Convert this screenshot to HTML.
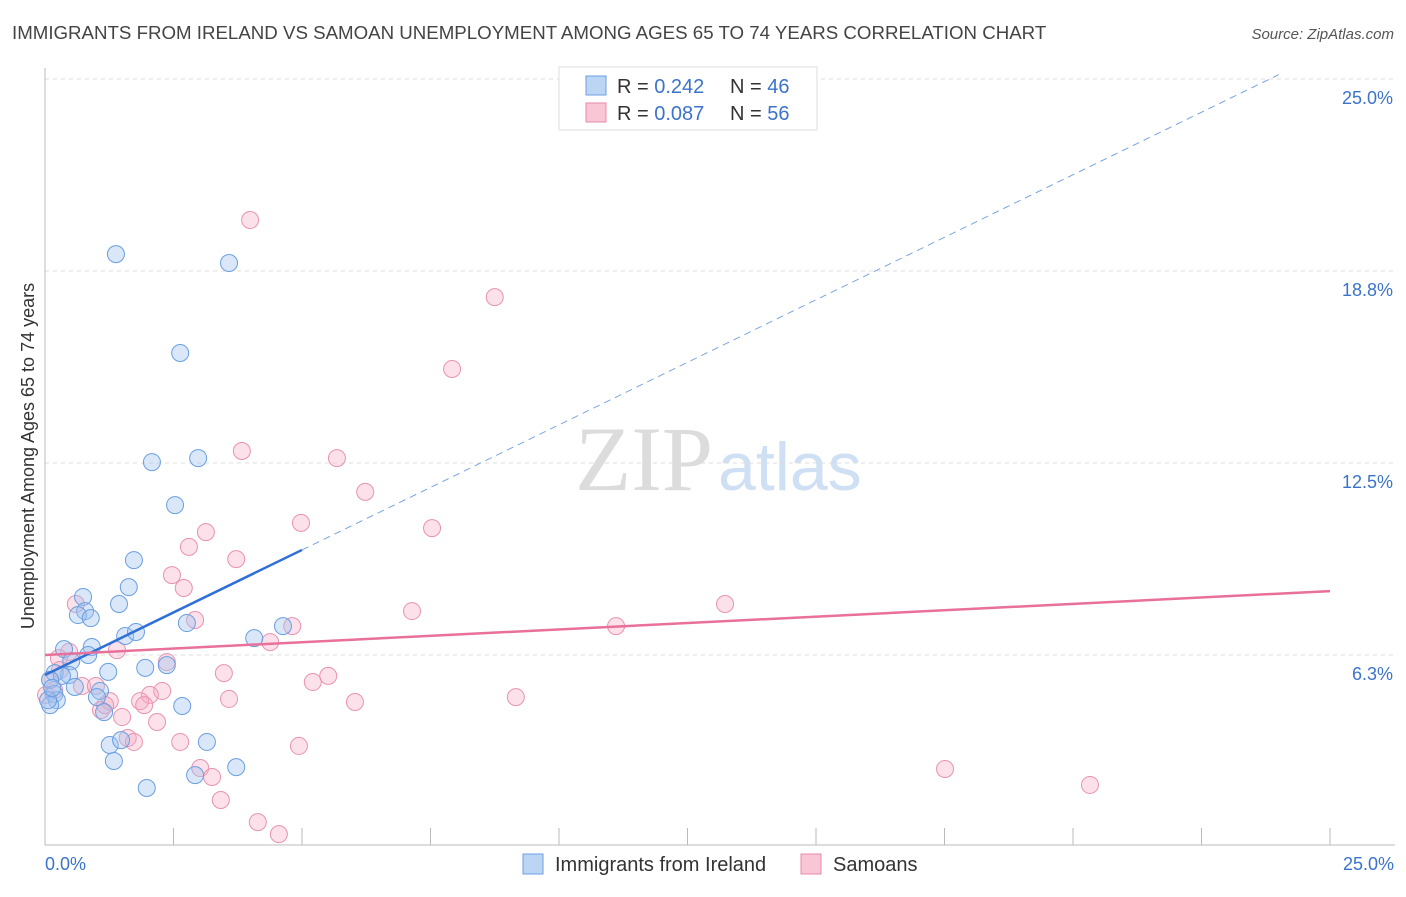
<!DOCTYPE html>
<html><head><meta charset="utf-8"><style>
body{margin:0;background:#fff;font-family:"Liberation Sans",sans-serif}
</style></head><body>
<svg id="c" width="1406" height="892" xmlns="http://www.w3.org/2000/svg">
<text x="12" y="39" font-size="18.7" fill="#444">IMMIGRANTS FROM IRELAND VS SAMOAN UNEMPLOYMENT AMONG AGES 65 TO 74 YEARS CORRELATION CHART</text>
<text x="1394" y="39" font-size="15" fill="#555" text-anchor="end" font-style="italic">Source: ZipAtlas.com</text>
<text x="713" y="490" font-size="92" fill="#dcdcdc" text-anchor="end" font-family="Liberation Serif,serif">ZIP</text>
<text x="718" y="490" font-size="68" fill="#cfe0f5">atlas</text>
<text transform="translate(34,456) rotate(-90)" font-size="18" fill="#333" text-anchor="middle">Unemployment Among Ages 65 to 74 years</text>
<g id="grid"></g><g id="pts"></g><g id="lines"></g>
<g>
<rect x="559" y="67" width="258" height="63" fill="#fff" stroke="#ddd"/>
<rect x="586" y="76" width="20" height="19" fill="#bcd5f5" stroke="#6a9fe0"/>
<text x="617" y="93" font-size="20" fill="#333">R = <tspan fill="#3b73cc">0.242</tspan></text>
<text x="730" y="93" font-size="20" fill="#333">N = <tspan fill="#3b73cc">46</tspan></text>
<rect x="586" y="103" width="20" height="19" fill="#f9c6d6" stroke="#e88aaa"/>
<text x="617" y="120" font-size="20" fill="#333">R = <tspan fill="#3b73cc">0.087</tspan></text>
<text x="730" y="120" font-size="20" fill="#333">N = <tspan fill="#3b73cc">56</tspan></text>
</g>
<g>
<rect x="523" y="854" width="20" height="20" fill="#bcd5f5" stroke="#6a9fe0"/>
<text x="555" y="871" font-size="20" fill="#333">Immigrants from Ireland</text>
<rect x="801" y="854" width="20" height="20" fill="#f9c6d6" stroke="#e88aaa"/>
<text x="833" y="871" font-size="20" fill="#333">Samoans</text>
</g>
</svg>
<script>
const yTicks=[25,18.75,12.5,6.25];
const yTickLabels=["25.0%","18.8%","12.5%","6.3%"];
const xTickLabels=["0.0%","25.0%"];
const blueX=[1.38,3.58,2.63,2.08,2.98,2.53,1.73,1.63,0.74,1.44,0.78,0.64,0.89,2.76,1.56,1.77,4.07,4.63,0.37,0.91,0.84,0.51,1.95,2.37,1.23,0.19,0.47,0.33,0.10,0.58,1.07,1.01,0.18,0.23,1.15,2.67,0.10,1.26,1.48,3.15,1.34,3.72,2.92,1.98,0.06,0.14];
const blueY=[19.30,19.01,16.08,12.53,12.66,11.13,9.34,8.46,8.14,7.91,7.68,7.55,7.45,7.29,6.87,7.00,6.80,7.19,6.44,6.51,6.25,6.05,5.83,5.92,5.70,5.66,5.60,5.57,5.44,5.21,5.08,4.88,4.98,4.78,4.39,4.59,4.62,3.32,3.48,3.42,2.80,2.60,2.34,1.92,4.78,5.18];
const pinkX=[3.99,8.75,7.92,3.83,5.68,6.23,4.98,7.53,3.13,2.80,3.72,2.47,2.70,0.60,7.14,13.23,2.92,11.11,4.81,4.38,1.40,0.47,0.27,2.37,3.48,5.51,5.21,0.72,0.99,2.28,2.04,1.85,1.26,3.58,6.03,9.16,1.09,1.93,0.18,1.50,2.18,1.61,1.73,2.63,4.94,3.02,3.25,17.51,20.33,3.42,4.14,4.55,0.10,0.29,1.17,0.02];
const pinkY=[20.41,17.90,15.56,12.89,12.66,11.56,10.55,10.38,10.25,9.77,9.37,8.85,8.43,7.91,7.68,7.91,7.39,7.19,7.19,6.67,6.41,6.35,6.15,6.02,5.66,5.57,5.37,5.24,5.24,5.08,4.95,4.75,4.75,4.82,4.72,4.88,4.46,4.62,5.11,4.23,4.07,3.55,3.42,3.42,3.29,2.57,2.28,2.54,2.02,1.53,0.81,0.42,5.44,5.76,4.62,4.95];
const blueTrend=[[0,5.60],[5.0,9.67],[24,25.14]];
const pinkTrend=[[0,6.25],[25,8.33]];
const NS="http://www.w3.org/2000/svg";
const X=v=>45+v/25*1285, Y=v=>847-v/25*768;
function mk(t,a,p){const e=document.createElementNS(NS,t);for(const k in a)e.setAttribute(k,a[k]);p.appendChild(e);return e;}
const g=document.getElementById('grid');
yTicks.forEach((t,i)=>{
 const l=mk('line',{x1:45,x2:1395,y1:Y(t),y2:Y(t),stroke:'#ddd','stroke-dasharray':'4,4'},g);
 
 
 const tx=mk('text',{x:1393,y:Y(t)+25,'font-size':18,fill:'#3b73cc','text-anchor':'end'},g);
 tx.textContent=yTickLabels[i];
 
 
});
mk('line',{x1:45,x2:45,y1:68,y2:845,stroke:'#bbb'},g);
mk('line',{x1:45,x2:1395,y1:845,y2:845,stroke:'#bbb'},g);
for(let i=0;i<=10;i++){const t=mk('line',{x1:X(i*2.5),x2:X(i*2.5),y1:828,y2:845,stroke:'#bbb'},g);
 
 }
const xl0=mk('text',{x:45,y:870,'font-size':18,fill:'#3b73cc'},g);xl0.textContent=xTickLabels[0];


const xl1=mk('text',{x:1394,y:870,'font-size':18,fill:'#3b73cc','text-anchor':'end'},g);xl1.textContent=xTickLabels[1];


const p=document.getElementById('pts');
pinkX.forEach((x,i)=>{const c=mk('circle',{cx:X(x),cy:Y(pinkY[i]),r:8.5,fill:'rgba(245,170,195,0.35)',stroke:'#e893b0','stroke-width':1},p);
 
 });
blueX.forEach((x,i)=>{const c=mk('circle',{cx:X(x),cy:Y(blueY[i]),r:8.5,fill:'rgba(160,195,240,0.4)',stroke:'#6a9fe0','stroke-width':1},p);
 
 });
const L=document.getElementById('lines');
const b1=mk('line',{x1:X(blueTrend[0][0]),y1:Y(blueTrend[0][1]),x2:X(blueTrend[1][0]),y2:Y(blueTrend[1][1]),stroke:'#2f6fd6','stroke-width':2.5},L);


const b2=mk('line',{x1:X(blueTrend[1][0]),y1:Y(blueTrend[1][1]),x2:X(blueTrend[2][0]),y2:Y(blueTrend[2][1]),stroke:'#7aa5e0','stroke-width':1,'stroke-dasharray':'7,5'},L);


const pl=mk('line',{x1:X(pinkTrend[0][0]),y1:Y(pinkTrend[0][1]),x2:X(pinkTrend[1][0]),y2:Y(pinkTrend[1][1]),stroke:'#e8709a','stroke-width':2.5},L);


</script>
</body></html>
